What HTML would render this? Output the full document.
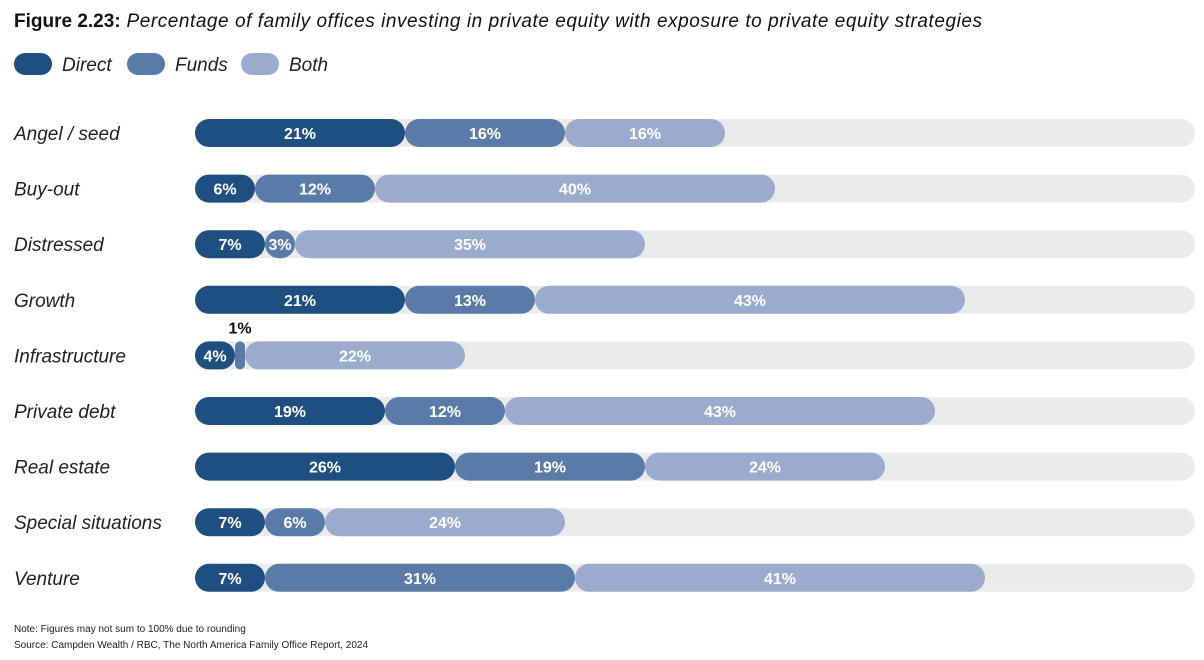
<!DOCTYPE html>
<html><head><meta charset="utf-8"><style>
body{margin:0;background:#fff;font-family:"Liberation Sans",sans-serif;}
svg text{font-family:"Liberation Sans",sans-serif;}
</style></head><body>
<svg width="1204" height="655" viewBox="0 0 1204 655">
<text x="14" y="27" font-size="19" fill="#111"><tspan font-weight="bold">Figure 2.23:</tspan><tspan font-style="italic" letter-spacing="0.55"> Percentage of family offices investing in private equity with exposure to private equity strategies</tspan></text>
<g>
<rect x="14" y="53" width="38" height="22" rx="11" fill="#1f4e80"/>
<text x="62" y="71" font-size="19" font-style="italic" fill="#222">Direct</text>
<rect x="127" y="53" width="38" height="22" rx="11" fill="#5a7ba8"/>
<text x="175" y="71" font-size="19" font-style="italic" fill="#222">Funds</text>
<rect x="241" y="53" width="38" height="22" rx="11" fill="#9aabcd"/>
<text x="289" y="71" font-size="19" font-style="italic" fill="#222">Both</text>
</g>
<g id="bars"></g>
<text x="14" y="632" font-size="10" fill="#222">Note: Figures may not sum to 100% due to rounding</text>
<text x="14" y="648" font-size="10" fill="#222">Source: Campden Wealth / RBC, The North America Family Office Report, 2024</text>
</svg>
<script>
const categories=["Angel / seed","Buy-out","Distressed","Growth","Infrastructure","Private debt","Real estate","Special situations","Venture"];
const direct=[21,6,7,21,4,19,26,7,7];
const funds=[16,12,3,13,1,12,19,6,31];
const both=[16,40,35,43,22,43,24,24,41];
const seriesNames=["direct","funds","both"];
const colors=["#1f4e80","#5a7ba8","#9aabcd"];
const x0=195,scale=10,y0=133,step=55.6,bh=28;
const xs=v=>x0+v*scale;
const ys=i=>y0+i*step;
const NS="http://www.w3.org/2000/svg";
const g=document.getElementById('bars');
function mk(t,a){const e=document.createElementNS(NS,t);for(const k in a)e.setAttribute(k,a[k]);return e;}
categories.forEach((c,i)=>{
  const cy=ys(i);
  const lab=mk('text',{x:14,y:cy+7,'font-size':19,'font-style':'italic',fill:'#222'});
  
  
  lab.textContent=c;g.appendChild(lab);
  const tr=mk('rect',{x:x0,y:cy-bh/2,width:100*scale,height:bh,rx:bh/2,fill:'#ebebeb'});
  
  
  g.appendChild(tr);
  const vals=[direct[i],funds[i],both[i]];
  let acc=0;
  vals.forEach((v,s)=>{
    const x=xs(acc),w=v*scale;
    const r=mk('rect',{x:x,y:cy-bh/2,width:w,height:bh,rx:Math.min(bh/2,w/2),fill:colors[s]});
    
    
    g.appendChild(r);
    const small=w<25;
    const t=mk('text',{x:x+w/2,y:small?cy-22:cy+6,'font-size':16,'font-weight':'bold','text-anchor':'middle',fill:small?'#111':'#fff'});
    
    
    t.textContent=v+'%';g.appendChild(t);
    acc+=v;
  });
});
</script>
</body></html>
